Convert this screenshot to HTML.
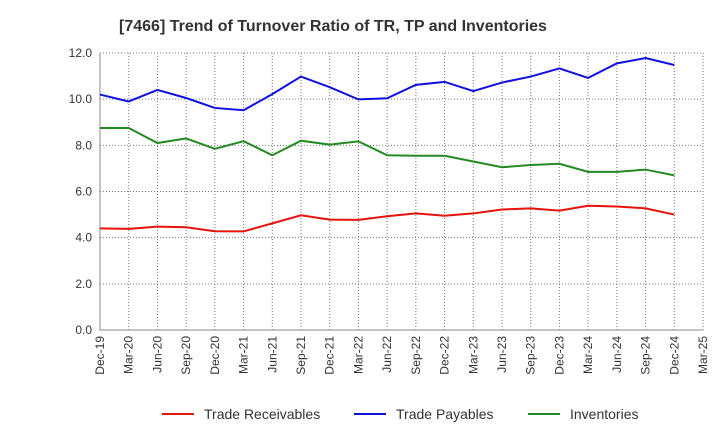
<!DOCTYPE html>
<html><head><meta charset="utf-8"><style>
body{margin:0;background:#fff;font-family:"Liberation Sans",sans-serif;}
</style></head><body>
<svg width="720" height="440" xmlns="http://www.w3.org/2000/svg" font-family="Liberation Sans, sans-serif">
<text x="333" y="31" text-anchor="middle" font-size="16" font-weight="bold" fill="#333">[7466]  Trend of Turnover Ratio of TR, TP and Inventories</text>
<g id="grid"></g>
<g id="axes"></g>
<g id="series"></g>
<g id="legend"></g>
</svg>
<script>
const categories=["Dec-19","Mar-20","Jun-20","Sep-20","Dec-20","Mar-21","Jun-21","Sep-21","Dec-21","Mar-22","Jun-22","Sep-22","Dec-22","Mar-23","Jun-23","Sep-23","Dec-23","Mar-24","Jun-24","Sep-24","Dec-24","Mar-25"];
const yTicks=[0,2,4,6,8,10,12];
const receivables=[4.4,4.38,4.48,4.45,4.28,4.27,4.62,4.97,4.78,4.77,4.93,5.05,4.95,5.05,5.22,5.27,5.17,5.38,5.35,5.27,5.0];
const payables=[10.2,9.9,10.4,10.05,9.62,9.52,10.22,10.98,10.52,9.99,10.04,10.62,10.75,10.35,10.72,10.98,11.33,10.92,11.55,11.78,11.48];
const inventories=[8.75,8.75,8.1,8.3,7.85,8.18,7.57,8.2,8.03,8.17,7.57,7.55,7.55,7.3,7.05,7.15,7.2,6.85,6.85,6.95,6.7];
const NS="http://www.w3.org/2000/svg";
const L=100,R=703,T=53,B=330,YMAX=12;
const xs=i=>L+(R-L)*i/(categories.length-1);
const ys=v=>B-(B-T)*v/YMAX;
function mk(tag,attrs,parent){const e=document.createElementNS(NS,tag);for(const k in attrs)e.setAttribute(k,attrs[k]);parent.appendChild(e);return e;}
const grid=document.getElementById('grid'),axes=document.getElementById('axes'),ser=document.getElementById('series'),leg=document.getElementById('legend');
yTicks.forEach(v=>{
  const y=ys(v);
  if(v>0){const g=mk('line',{x1:L,x2:R,y1:y,y2:y,stroke:'#777','stroke-dasharray':'1,2','stroke-width':1},grid);
  
  }
  const t=mk('text',{x:L-8,y:y+4,'text-anchor':'end','font-size':12,fill:'#333'},axes);
  t.textContent=v.toFixed(1);
  
  
});
categories.forEach((c,i)=>{
  const x=xs(i);
  if(i>0){const g=mk('line',{x1:x,x2:x,y1:T,y2:B,stroke:'#777','stroke-dasharray':'1,2','stroke-width':1},grid);
  
  }
  const t=mk('text',{x:0,y:0,'text-anchor':'end','font-size':12,fill:'#333',transform:`translate(${x+4},${B+6}) rotate(-90)`},axes);
  t.textContent=c;
  
  
});
const ax=mk('path',{d:`M${L},${T}V${B}H${R}`,fill:'none',stroke:'#888','stroke-width':1},axes);


const defs=[["Trade Receivables",receivables,"#e8120c","receivables-line"],["Trade Payables",payables,"#1010e0","payables-line"],["Inventories",inventories,"#238a23","inventories-line"]];
defs.forEach(([n,data,col,name])=>{
  const p=mk('polyline',{points:data.map((v,i)=>xs(i)+','+ys(v)).join(' '),fill:'none',stroke:col,'stroke-width':2},ser);
  
  
});
const lx=[162,354,528];
defs.forEach(([n,data,col],k)=>{
  const g=mk('g',{},leg);
  
  
  mk('line',{x1:lx[k],x2:lx[k]+32,y1:414,y2:414,stroke:col,'stroke-width':2},g);
  const t=mk('text',{x:lx[k]+42,y:419,'font-size':14,fill:'#333'},g);
  t.textContent=n;
});
</script>
</body></html>
